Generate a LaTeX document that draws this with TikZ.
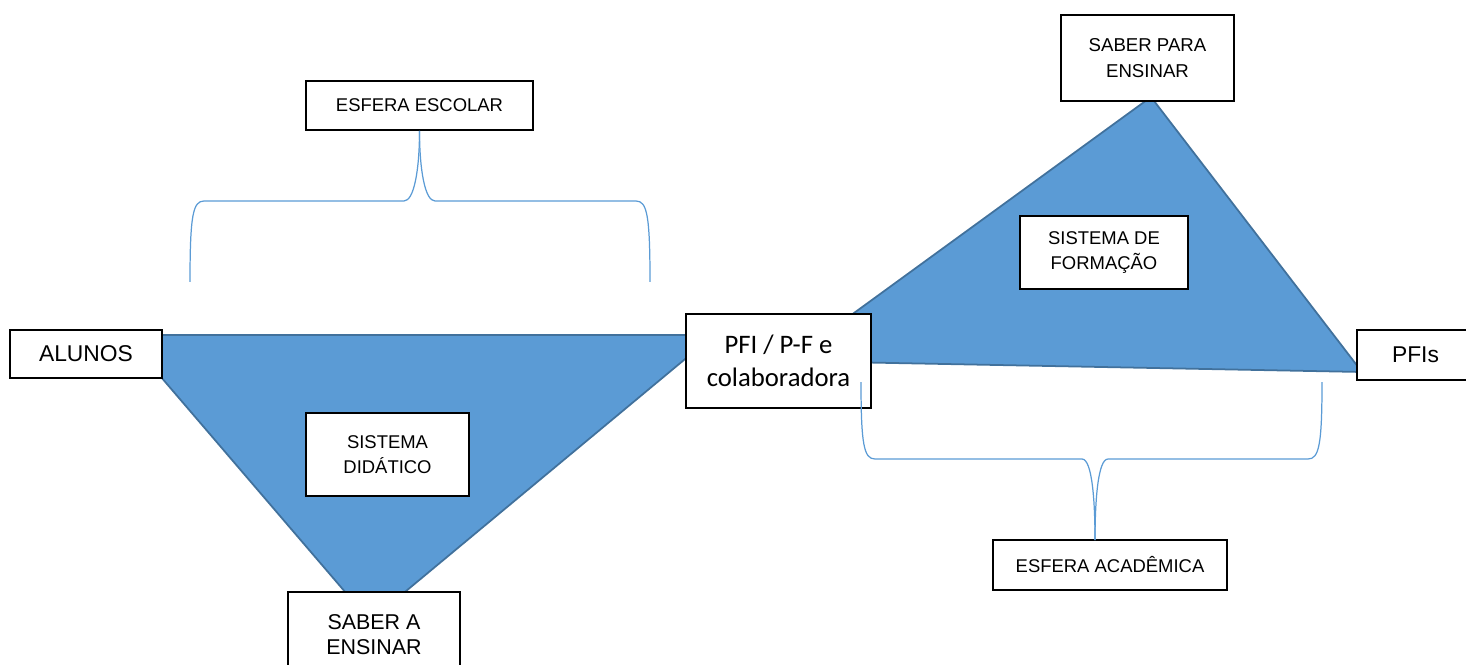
\documentclass[tikz,border=0pt]{standalone}
\usepackage{fontspec}
\setmainfont{Liberation Sans}
\newfontfamily\calibri{Carlito}
\definecolor{officeblue}{HTML}{5B9BD5}
\definecolor{officeedge}{HTML}{41719C}
\tikzset{
  caixa/.style={draw, line width=1pt, fill=white, align=center, inner sep=0pt,
    font=\fontsize{10.5}{14}\selectfont},
  chave/.style={officeblue, line width=0.7pt},
  triang/.style={fill=officeblue, draw=officeedge, line width=1pt}
}

\begin{document}
\begin{tikzpicture}[x=0.02cm, y=-0.02cm]
\clip (0,0) rectangle (1466,665);

% os dois triangulos
\draw[triang] (125,335) -- (714,335) -- (370,621) -- cycle;
\draw[triang] (788,361) -- (1151,97) -- (1362,372) -- cycle;

\node[caixa, minimum width=4.54cm, minimum height=0.98cm] (escolar) at (419.5,105.5) {ESFERA ESCOLAR};
\node[caixa, minimum width=3.04cm, minimum height=0.96cm, font=\fontsize{13}{16}\selectfont] (alunos) at (86,354) {ALUNOS};
\node[caixa, minimum width=3.70cm, minimum height=1.88cm, font=\calibri\fontsize{15.2}{18.8}\selectfont] (pfi) at (778.5,361) {PFI / P-F e\\colaboradora};
\node[caixa, minimum width=3.26cm, minimum height=1.66cm] (didatico) at (387.5,454.5) {SISTEMA\\DIDÁTICO};
\node[caixa, minimum width=3.44cm, minimum height=1.72cm, font=\fontsize{12.2}{14.2}\selectfont] (saberA) at (374,635) {SABER A\\ENSINAR};
\node[caixa, minimum width=3.46cm, minimum height=1.72cm, font=\fontsize{10.6}{14.6}\selectfont] (saberP) at (1147.5,58) {SABER PARA\\ENSINAR};
\node[caixa, minimum width=3.36cm, minimum height=1.46cm] (formacao) at (1104,252.5) {SISTEMA DE\\FORMAÇÃO};
\node[caixa, minimum width=2.34cm, minimum height=1.00cm, font=\fontsize{13}{16}\selectfont] (pfis) at (1415.5,355) {PFIs};
\node[caixa, minimum width=4.68cm, minimum height=1.00cm] (academica) at (1110,565) {ESFERA ACADÊMICA};

% chaves
\draw[chave] (190,282) .. controls (190,215) and (193,201) .. (204,201) -- (404,201)
  .. controls (414,201) and (419.5,170) .. (escolar.south);
\draw[chave] (escolar.south) .. controls (419.5,170) and (425,201) .. (435,201) -- (636,201)
  .. controls (647,201) and (650,215) .. (650,282);

\coordinate (acadtip) at (1095,540);
\draw[chave] (861,382) .. controls (861,445) and (864,459) .. (875,459) -- (1082,459)
  .. controls (1092,459) and (1095,500) .. (acadtip);
\draw[chave] (acadtip) .. controls (1095,500) and (1098,459) .. (1108,459) -- (1308,459)
  .. controls (1319,459) and (1322,445) .. (1322,382);

\end{tikzpicture}
\end{document}
